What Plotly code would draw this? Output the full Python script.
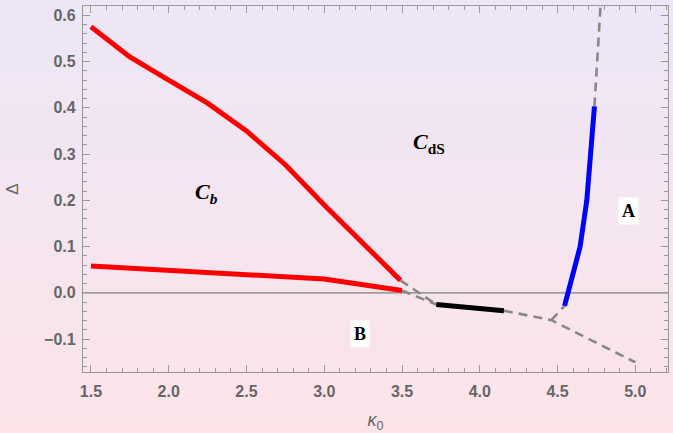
import plotly.graph_objects as go
import numpy as np

# ---- data ----
red_upper_x = [1.5, 1.75, 2.0, 2.25, 2.5, 2.75, 3.0, 3.25, 3.49]
red_upper_y = [0.575, 0.51, 0.46, 0.41, 0.35, 0.277, 0.19, 0.105, 0.027]

red_lower_x = [1.5, 2.0, 2.5, 3.0, 3.5]
red_lower_y = [0.058, 0.049, 0.04, 0.03, 0.005]

black_x = [3.72, 4.155]
black_y = [-0.025, -0.0385]

blue_x = [4.545, 4.598, 4.645, 4.688, 4.71, 4.737]
blue_y = [-0.028, 0.04, 0.1, 0.2, 0.3, 0.403]

dash1_x = [3.49, 3.72]
dash1_y = [0.027, -0.025]
dash2_x = [3.5, 3.72]
dash2_y = [0.005, -0.025]
dash3_x = [4.155, 4.46, 5.0]
dash3_y = [-0.0385, -0.059, -0.15]
dash4_x = [4.46, 4.545]
dash4_y = [-0.059, -0.028]
dash5_x = [4.737, 4.777]
dash5_y = [0.403, 0.625]

x_ticks = [1.5, 2.0, 2.5, 3.0, 3.5, 4.0, 4.5, 5.0]
y_ticks = [-0.1, 0.0, 0.1, 0.2, 0.3, 0.4, 0.5, 0.6]

region_labels = [
    ("<b><i>C</i></b><sub><b><i>b</i></b></sub>", 2.244, 0.216, None),
    ("<b><i>C</i></b><sub><b>dS</b></sub>", 3.673, 0.324, None),
    ("<b>A</b>", 4.955, 0.177, "white"),
    ("<b>B</b>", 3.23, -0.089, "white"),
]

fig = go.Figure()

GRAY = "#888888"
dash_style = dict(color=GRAY, width=2.6, dash="9px,6px")
for dx, dy in [(dash1_x, dash1_y), (dash2_x, dash2_y), (dash3_x, dash3_y),
               (dash4_x, dash4_y), (dash5_x, dash5_y)]:
    fig.add_trace(go.Scatter(x=dx, y=dy, mode="lines", line=dash_style,
                             hoverinfo="skip", showlegend=False))

fig.add_trace(go.Scatter(x=red_upper_x, y=red_upper_y, mode="lines",
                         line=dict(color="#FF0000", width=5), showlegend=False))
fig.add_trace(go.Scatter(x=red_lower_x, y=red_lower_y, mode="lines",
                         line=dict(color="#FF0000", width=5), showlegend=False))
fig.add_trace(go.Scatter(x=black_x, y=black_y, mode="lines",
                         line=dict(color="#000000", width=5), showlegend=False))
fig.add_trace(go.Scatter(x=blue_x, y=blue_y, mode="lines",
                         line=dict(color="#0000FF", width=5), showlegend=False))

# background gradient (lavender top -> pink bottom)
shapes = []
n = 60
top = np.array([237, 230, 247])
bot = np.array([252, 228, 233])
for i in range(n):
    t = (i + 0.5) / n
    c = top + (bot - top) * t
    y1 = 1 + 6 / 366 - i * (433 / 366) / n
    y0 = y1 - (433 / 366) / n - 0.002
    shapes.append(dict(type="rect", xref="paper", yref="paper",
                       x0=-0.2, x1=1.1, y0=y0, y1=y1, layer="below",
                       line=dict(width=0),
                       fillcolor="rgb(%d,%d,%d)" % tuple(c.round().astype(int))))
# zero line
shapes.append(dict(type="line", xref="paper", yref="y", x0=0, x1=1, y0=0, y1=0,
                   line=dict(color="#808080", width=1.2), layer="below"))

annotations = []
for txt, ax, ay, bg in region_labels:
    size = 22 if "C" in txt else 18
    a = dict(x=ax, y=ay, xref="x", yref="y", text=txt, showarrow=False,
             font=dict(family="Liberation Serif", size=size, color="black"))
    if bg:
        a.update(bgcolor=bg, borderpad=3)
    annotations.append(a)

axis_common = dict(
    showline=True, linecolor="#999999", linewidth=1.2, mirror="allticks",
    ticks="inside", ticklen=7, tickcolor="#999999", tickwidth=1.2,
    showgrid=False, zeroline=False, automargin=False,
    tickfont=dict(family="Liberation Sans", size=16, color="#666666", weight="bold"),
)

fig.update_layout(
    width=673, height=433,
    margin=dict(l=83, r=5, t=6, b=61),
    paper_bgcolor="rgba(0,0,0,0)", plot_bgcolor="rgba(0,0,0,0)",
    shapes=shapes, annotations=annotations,
    xaxis=dict(range=[1.449, 5.21], tickvals=x_ticks,
               ticktext=["%.1f" % v for v in x_ticks],
               minor=dict(dtick=0.1, ticks="inside", ticklen=4, tickcolor="#999999"),
               ticklabelstandoff=5,
               title=dict(text="<i>κ</i><sub>0</sub>", standoff=20,
                          font=dict(family="Liberation Sans", size=18, color="#666666")),
               **axis_common),
    yaxis=dict(range=[-0.171, 0.62], tickvals=y_ticks,
               ticktext=["\u22120.1" if v < 0 else "%.1f" % v for v in y_ticks],
               minor=dict(dtick=0.02, ticks="inside", ticklen=4, tickcolor="#999999"),
               ticklabelstandoff=3,
               title=dict(text="Δ", standoff=21,
                          font=dict(family="Liberation Sans", size=17, color="#666666")),
               **axis_common),
)

fig.write_html("out.html")
